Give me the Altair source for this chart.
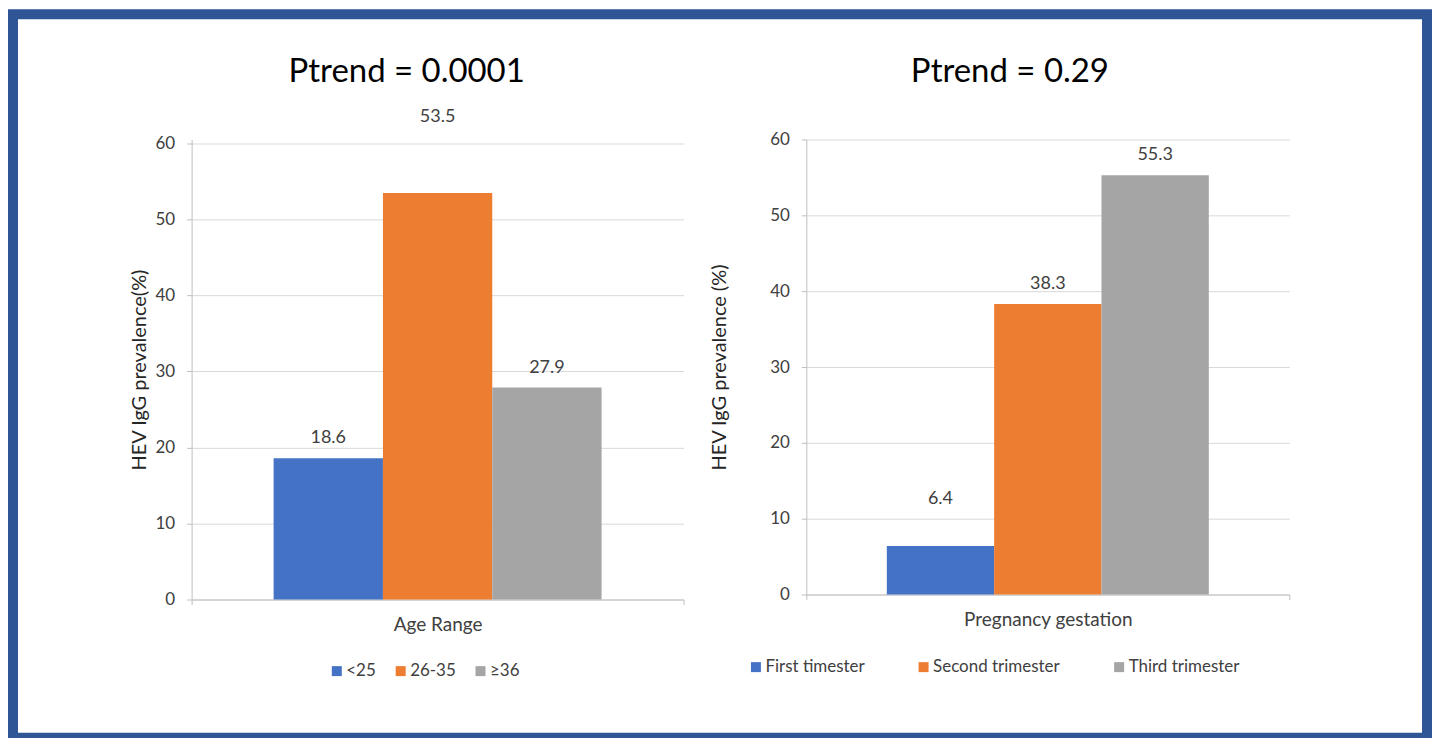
import altair as alt
import pandas as pd

# ---- data ----
age_groups = ["<25", "26-35", "≥36"]
age_values = [18.6, 53.5, 27.9]
age_category = "Age Range"

gest_groups = ["First timester", "Second trimester", "Third trimester"]
gest_values = [6.4, 38.3, 55.3]
gest_category = "Pregnancy gestation"

y_ticks = [0, 10, 20, 30, 40, 50, 60]
bar_colors = ["#4472C4", "#ED7D31", "#A5A5A5"]

FONT = "Lato"
TEXT = "#404040"
LINE = "#BFBFBF"
GRID = "#D9D9D9"
FRAME = "#2F5597"


def panel(category, groups, values, ptrend, ytitle, ymax, width, height,
          title_dx, title_offset, ytitle_pad, legend_x, legend_y, col_pad,
          raised, raised_dy):
    df = pd.DataFrame({"cat": [category] * len(groups), "group": groups, "value": values})
    base = alt.Chart(df)

    x_enc = alt.X("cat:N", title=None,
                  scale=alt.Scale(paddingInner=0, paddingOuter=0),
                  axis=alt.Axis(tickBand="extent", labelAngle=0, labelPadding=11,
                                grid=False, domainColor=LINE, tickColor=LINE,
                                tickSize=5, labelFontSize=19, labelColor=TEXT,
                                labelFont=FONT))
    xo_enc = alt.XOffset("group:N", sort=groups,
                         scale=alt.Scale(domain=groups, paddingInner=0, paddingOuter=0.75))
    y_enc = alt.Y("value:Q",
                  scale=alt.Scale(domain=[0, ymax], nice=False, zero=True),
                  axis=alt.Axis(values=y_ticks, title=ytitle, titlePadding=ytitle_pad,
                                titleFontSize=20, titleFontWeight="normal",
                                titleColor="#262626", titleFont=FONT,
                                labelFontSize=17, labelColor=TEXT, labelFont=FONT,
                                labelPadding=12, tickSize=5, tickColor=LINE,
                                domainColor=LINE, gridColor=GRID))

    bars = base.mark_bar().encode(
        x=x_enc, xOffset=xo_enc, y=y_enc,
        color=alt.Color("group:N", sort=groups,
                        scale=alt.Scale(domain=groups, range=bar_colors),
                        legend=alt.Legend(title=None, orient="none", direction="horizontal",
                                          legendX=legend_x, legendY=legend_y,
                                          symbolType="square", symbolSize=100,
                                          symbolStrokeWidth=0, labelFontSize=17,
                                          labelColor=TEXT, labelFont=FONT,
                                          labelOffset=1, columnPadding=col_pad)),
    )

    normal = [g for g in groups if g not in raised]
    txt_normal = base.transform_filter(
        alt.FieldOneOfPredicate(field="group", oneOf=normal)
    ).mark_text(dy=-20, fontSize=18, color=TEXT, font=FONT, baseline="middle").encode(
        x=x_enc, xOffset=xo_enc, y=y_enc, text=alt.Text("value:Q", format=".1f"))
    txt_raised = base.transform_filter(
        alt.FieldOneOfPredicate(field="group", oneOf=raised)
    ).mark_text(dy=raised_dy, fontSize=18, color=TEXT, font=FONT, baseline="middle").encode(
        x=x_enc, xOffset=xo_enc, y=y_enc, text=alt.Text("value:Q", format=".1f"))

    return alt.layer(bars, txt_normal, txt_raised).properties(
        width=width, height=height,
        title=alt.TitleParams(ptrend, fontSize=33, font=FONT, fontWeight="normal",
                              color="black", anchor="middle", dx=title_dx,
                              offset=title_offset),
    )


left = panel(age_category, age_groups, age_values, "Ptrend = 0.0001",
             "HEV IgG prevalence(%)", 60.525, 493, 461,
             title_dx=-31, title_offset=19, ytitle_pad=5,
             legend_x=137, legend_y=524, col_pad=16,
             raised=["26-35"], raised_dy=-76)

right = panel(gest_category, gest_groups, gest_values, "Ptrend = 0.29",
              "HEV IgG prevalence (%)", 60, 484, 456,
              title_dx=-38, title_offset=42, ytitle_pad=40,
              legend_x=-59, legend_y=520, col_pad=50,
              raised=["First timester"], raised_dy=-47)

# empty panel that only carries the blue picture frame
frame = alt.Chart(pd.DataFrame({"k": [0]})).mark_rect(
    fill="transparent", stroke=FRAME, strokeWidth=10
).encode(x=alt.value(-1402), x2=alt.value(15),
         y=alt.value(-125.5), y2=alt.value(599.5)).properties(width=1, height=456)

chart = alt.hconcat(left, right, frame, spacing=123, bounds="flush").resolve_scale(
    x="independent", xOffset="independent", y="independent", color="independent"
).resolve_legend(color="independent").properties(
    padding=0, background="white"
).configure(font=FONT).configure_view(stroke=None)

chart.save("out.html", embed_options={"renderer": "svg", "actions": False})
